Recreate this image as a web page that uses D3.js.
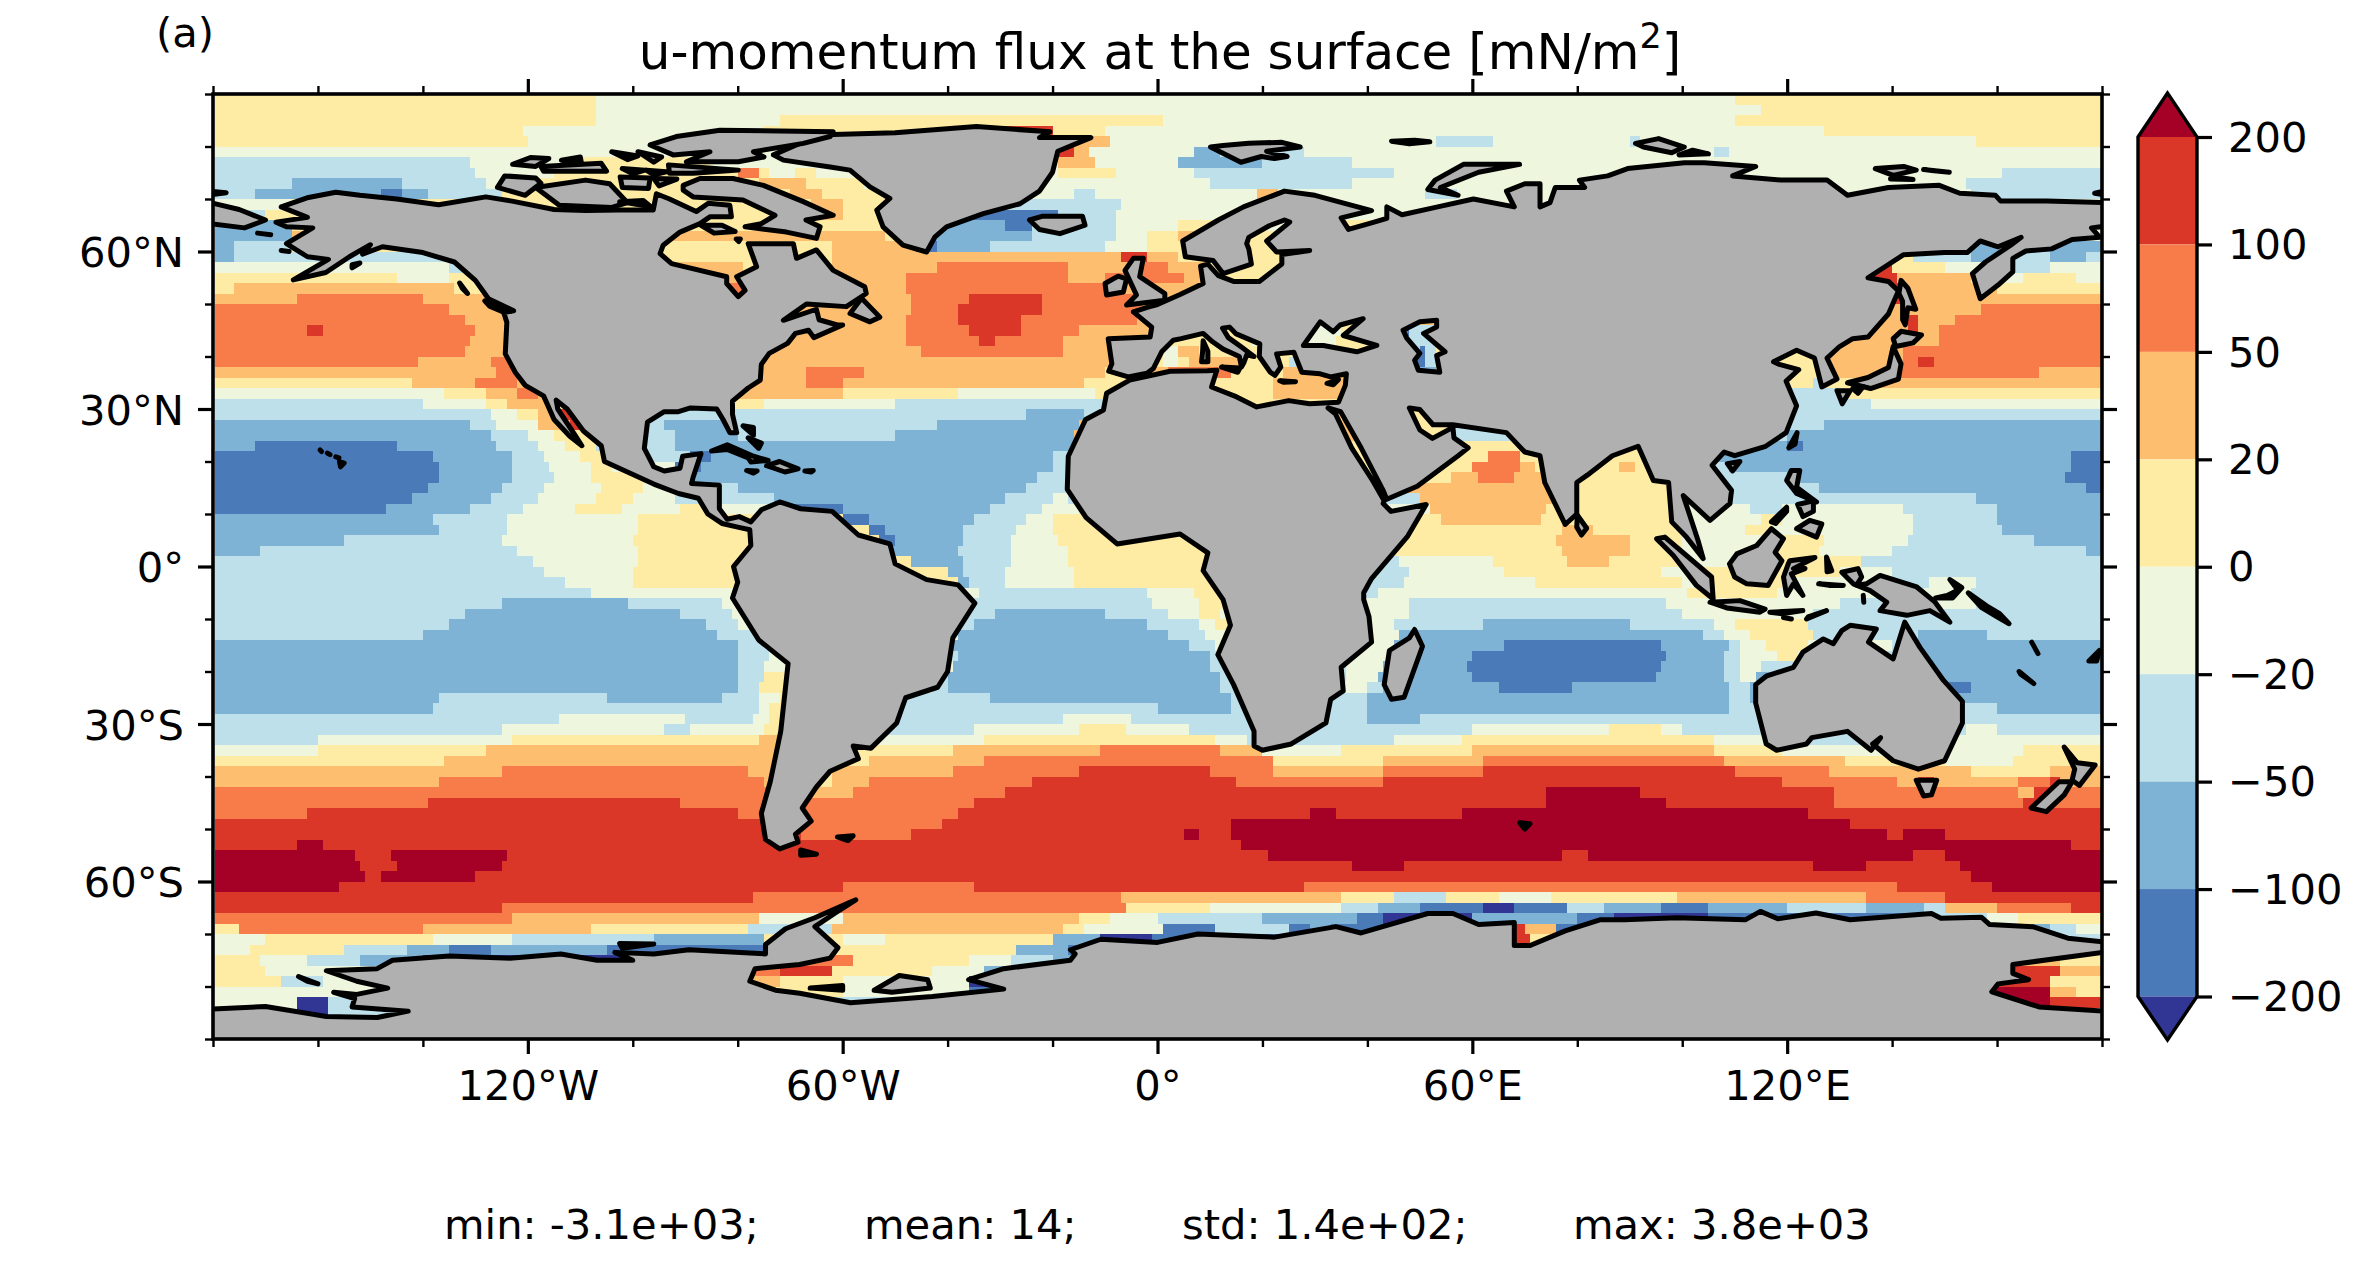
<!DOCTYPE html>
<html>
<head>
<meta charset="utf-8">
<script src="https://cdn.jsdelivr.net/npm/d3@7"></script>
<style>
  html, body { margin: 0; background: #fff; }
  text { font-family: "DejaVu Sans", sans-serif; fill: #000; }
</style>
</head>
<body>
<svg id="chart" width="2362" height="1263"></svg>
<script>
// colour classes, bottom to top of the colorbar
var levels = [-200, -100, -50, -20, 0, 20, 50, 100, 200];
var classColors = ["#313695", "#4a7ab7", "#7fb3d5", "#bde0eb", "#eef7de", "#feeca4", "#fdbe70", "#f77c49", "#db3728", "#a50026"];
var classValues = [-300, -150, -75, -35, -10, 10, 35, 75, 150, 300];

var lonTicksMajor = [-120, -60, 0, 60, 120];
var lonTicksMinor = [-180, -160, -140, -100, -80, -40, -20, 20, 40, 80, 100, 140, 160, 180];
var latTicksMajor = [60, 30, 0, -30, -60];
var latTicksMinor = [90, 80, 70, 50, 40, 20, 10, -10, -20, -40, -50, -70, -80, -90];
var lonLabels = { "-120": "120°W", "-60": "60°W", "0": "0°", "60": "60°E", "120": "120°E" };
var latLabels = { "60": "60°N", "30": "30°N", "0": "0°", "-30": "30°S", "-60": "60°S" };
var colorbarLabels = ["200", "100", "50", "20", "0", "−20", "−50", "−100", "−200"];
var colorbarLevels = [200, 100, 50, 20, 0, -20, -50, -100, -200];
var footerStats = ["min: -3.1e+03;", "mean: 14;", "std: 1.4e+02;", "max: 3.8e+03"];

// flux field: one string per 2 degree latitude band from 89N to 89S,
// each run is class:eastern longitude of the run
var fluxRows = [
"5:-107 4:110 5:180",
"5:-107 4:115 5:180",
"5:-107 4:-72 5:1 4:110 5:180",
"5:-121 4:-75 5:-34 8:-20 5:-10 4:127 5:180",
"5:-120 4:-20 6:-9 4:53 3:64 4:90 3:92 4:156 5:180",
"4:-19 8:-16 6:-13 4:7 2:12 3:28 4:106 3:109 4:180",
"3:-131 4:-112 5:-85 4:-19 6:-12 4:4 2:20 3:37 4:180",
"3:-130 4:-115 5:-80 7:-76 5:-74 4:-69 5:-65 4:-54 4:-19 5:-8 4:7 3:45 4:161 3:180",
"3:-165 2:-144 3:-128 4:-120 5:-76 6:-67 5:-56 4:10 3:37 4:154 3:180",
"3:-172 2:-148 1:-144 2:-139 3:-125 5:-70 6:-64 5:-52 4:-16 3:-12 4:19 6:23 4:51 3:57 4:155 3:180",
"4:-165 5:-66 6:-60 5:-50 3:-7 4:180",
"3:-170 5:-64 6:-60 5:-50 1:-19 3:-8 4:180",
"2:-165 5:-45 2:-29 1:-24 3:-8 4:4 5:12 4:36 5:44 4:180",
"2:-165 6:-52 5:-43 2:-24 3:-8 4:-2 5:4 6:9 5:30 4:180",
"2:-176 3:-165 5:-62 6:-46 1:-42 2:-32 3:-10 4:-2 5:30 2:180",
"2:-176 3:-130 5:-62 6:-7 8:-2 6:4 5:144 3:155 2:163 3:170 2:177 3:180",
"4:-135 3:-128 5:-92 6:-79 5:-62 6:-42 7:-17 6:-3 7:2 6:9 5:136 8:140 5:150 4:163 3:170 4:180",
"5:-145 4:-135 5:-92 6:-48 7:-17 6:-10 7:5 6:12 5:136 8:141 6:155 4:165 5:175 4:180",
"5:-176 6:-134 5:-82 7:-78 6:-48 7:-10 6:136 8:142 6:160 5:180",
"6:-164 7:-140 6:-47 7:-36 8:-22 7:0 6:140 8:142 6:180",
"7:-135 6:-47 7:-38 8:-22 7:-3 6:157 7:180",
"7:-132 6:-48 7:-38 8:-26 7:-4 6:143 8:145 6:152 7:180",
"7:-162 8:-159 7:-130 6:-48 7:-36 8:-26 7:-15 6:12 5:18 4:35 5:42 1:48 3:53 6:143 8:145 6:149 7:180",
"7:-131 6:-48 7:-34 8:-31 7:-18 6:-2 5:18 4:34 5:42 3:53 6:149 7:180",
"7:-132 6:-45 7:-18 6:-2 5:1 4:4 6:8 5:42 3:50 1:51 3:53 5:128 6:142 7:180",
"7:-141 6:-127 7:-122 6:-2 5:1 4:4 5:6 6:16 5:25 3:27 6:47 1:51 3:53 5:128 6:142 7:145 8:148 7:180",
"6:-126 7:-118 6:-67 7:-56 6:-10 5:-2 6:2 7:14 5:24 6:36 5:47 2:53 5:128 6:140 7:168 6:180",
"5:-142 6:-130 7:-122 6:-67 7:-60 6:-14 5:-6 6:8 5:22 6:36 5:125 3:127 5:133 6:180",
"4:-136 5:-128 6:-122 7:-118 6:-60 5:-38 4:-12 5:22 6:36 3:131 5:180",
"3:-140 4:-128 5:-124 6:-114 5:-75 4:-50 3:-10 5:35 3:136 4:180",
"3:-127 4:-122 5:-118 6:-114 8:-110 3:-25 2:-14 3:-11 6:35 5:56 3:180",
"2:-131 3:-126 4:-118 6:-112 8:-110 3:-94 2:-82 3:-42 2:-15 6:37 5:56 3:127 2:180",
"2:-127 3:-120 4:-115 5:-108 6:-106 3:-92 2:-80 3:-50 2:-16 6:38 5:56 3:120 2:180",
"2:-172 1:-145 2:-126 3:-118 4:-113 5:-107 3:-92 2:-16 5:100 2:120 1:123 2:180",
"1:-138 2:-123 3:-117 4:-110 5:-104 3:-89 1:-85 2:-20 3:-17 5:63 7:69 5:100 2:174 1:180",
"1:-137 2:-123 3:-116 4:-108 5:-104 4:-92 1:-87 2:-20 3:-17 4:38 5:60 7:69 6:72 5:88 6:91 5:100 3:109 2:174 1:180",
"1:-137 2:-123 3:-115 4:-108 5:-96 2:-23 3:-17 1:40 5:56 6:61 7:68 6:74 5:94 3:120 2:173 1:180",
"1:-139 2:-125 3:-117 4:-106 5:-98 4:-90 3:-80 2:-25 3:-17 2:42 3:45 6:75 5:100 3:126 2:177 1:180",
"1:-142 2:-127 3:-118 4:-107 5:-100 4:-92 3:-73 2:-29 3:-20 4:-17 3:50 6:76 5:100 3:156 2:180",
"1:-147 2:-131 3:-121 4:-111 5:-102 4:-91 5:-84 4:-73 1:-60 2:-32 3:-22 4:-15 5:43 4:52 6:74 5:100 4:113 3:119 4:142 3:160 2:180",
"2:-138 3:-124 4:-99 5:-60 1:-55 2:-35 3:-25 4:-20 5:-14 5:54 6:73 5:100 4:115 5:119 4:144 3:160 2:180",
"2:-137 3:-124 4:-99 5:-55 1:-52 2:-37 3:-27 4:-20 5:77 6:83 5:100 4:112 5:117 4:144 3:161 2:180",
"2:-155 3:-125 4:-100 5:-53 1:-50 2:-37 3:-28 4:-19 5:76 6:90 5:100 4:115 5:127 4:143 3:167 2:180",
"2:-171 3:-122 4:-99 5:-51 2:-38 3:-28 4:-17 5:77 6:90 5:100 4:115 5:126 4:140 3:177 2:180",
"3:-119 4:-99 5:-47 2:-37 3:-28 4:-17 5:42 3:46 4:64 5:78 6:86 5:100 4:118 5:134 3:180",
"3:-117 4:-100 5:-40 2:-37 3:-29 4:-16 5:42 3:48 4:66 5:96 4:102 5:130 4:140 3:180",
"3:-113 4:-100 5:-38 2:-36 3:-29 4:-16 5:40 3:47 4:72 5:100 4:106 5:119 4:140 3:147 4:156 3:180",
"3:-108 4:-34 3:-2 4:7 5:12 3:42 4:101 5:118 4:140 3:146 4:155 3:180",
"3:-125 2:-101 3:-83 4:-35 3:-1 4:8 5:13 4:48 3:97 4:130 3:148 4:156 3:180",
"3:-132 2:-91 3:-81 4:-40 3:-31 2:-10 3:2 4:8 5:12 4:48 3:100 4:125 3:180",
"3:-135 2:-86 3:-80 4:-38 3:-35 2:-2 3:8 4:11 5:14 4:45 3:62 2:90 3:106 4:110 5:124 3:180",
"3:-140 2:-84 3:-76 4:-38 2:2 3:9 4:46 2:104 3:108 4:113 5:125 3:145 2:158 3:180",
"2:-80 3:-40 2:6 3:11 4:45 2:66 1:96 2:109 3:111 4:116 5:124 4:140 3:145 2:180",
"2:-80 3:-74 4:-40 3:-38 2:10 3:12 4:44 2:60 1:97 2:108 3:111 4:118 5:122 4:124 3:146 2:180",
"2:-80 3:-75 4:-39 2:10 3:36 4:43 2:59 1:96 2:108 3:111 4:115 3:146 2:180",
"2:-80 3:-75 5:-42 3:-40 2:12 3:36 4:42 2:60 1:95 2:108 3:111 4:114 2:180",
"2:-80 3:-76 5:-43 3:-40 2:12 3:33 4:40 3:43 2:65 1:79 2:109 3:113 2:150 1:155 2:180",
"2:-137 3:-105 2:-83 3:-76 4:-72 5:-48 3:-32 2:14 3:40 2:109 3:113 2:180",
"2:-138 3:-76 4:-74 5:-70 3:0 2:14 3:40 2:109 3:160 2:180",
"3:-114 4:-90 3:-77 4:-74 5:-71 3:-18 4:-5 3:40 2:50 3:180",
"3:-125 4:-94 3:-89 4:-75 5:-72 3:-35 4:-15 5:-6 4:6 3:60 4:86 5:96 4:100 3:154 4:160 3:180",
"3:-160 4:-123 5:-76 6:-72 4:-33 5:11 4:17 3:45 4:58 5:106 4:117 3:150 4:180",
"4:-160 5:-128 6:-72 5:-39 6:-11 7:12 6:20 4:35 5:60 6:106 5:119 4:165 5:180",
"5:-136 6:-72 5:-55 6:-33 7:22 5:43 6:62 7:108 6:131 5:150 4:163 5:180",
"6:-125 7:-78 6:-72 5:-62 6:-39 7:-15 8:10 7:22 6:43 7:62 8:110 7:128 6:155 5:170 6:180",
"6:-137 7:-75 6:-65 5:-62 6:-55 7:-24 8:15 7:43 8:119 7:141 6:145 8:148 6:164 7:170 8:172 6:180",
"7:-72 6:-58 7:-29 8:74 9:92 8:129 7:164 6:167 8:171 7:180",
"7:-139 8:-91 7:-35 8:74 9:97 8:129 7:165 8:170 7:180",
"7:-162 8:-80 7:-38 8:29 9:34 8:58 9:124 8:180",
"8:-68 7:-41 8:14 9:132 8:180",
"8:-68 7:-47 8:5 9:8 8:14 9:139 8:142 9:150 8:180",
"8:-164 9:-159 8:16 9:174 8:180",
"9:-153 8:-146 9:-124 8:21 9:77 8:82 9:144 8:150 9:180",
"9:-152 8:-145 9:-125 8:37 9:47 8:125 9:135 8:153 9:180",
"9:-151 8:-148 9:-130 8:155 9:180",
"9:-156 8:-60 7:-35 8:28 7:141 8:159 9:180",
"8:-77 7:-7 6:35 5:45 3:55 5:65 4:75 5:99 6:135 7:150 8:180",
"8:-125 7:-6 5:10 4:35 3:42 2:50 1:62 0:68 1:78 3:85 2:96 1:105 2:120 3:135 2:146 3:150 6:160 7:174 8:180",
"7:-123 6:-76 4:-60 6:-15 5:-9 4:0 3:20 2:38 1:43 0:60 2:80 1:87 0:105 1:145 3:158 4:164 5:180",
"5:-175 7:-140 6:-108 5:-78 3:-62 6:-18 5:-14 4:1 1:11 3:25 1:29 2:33 1:64 8:70 6:76 1:160 2:170 3:175 4:180",
"4:-170 5:-138 4:-123 3:-96 2:-75 5:-60 4:-52 5:-20 2:-11 0:-1 1:66 8:71 5:76 1:165 0:168 3:180",
"4:-173 5:-155 3:-143 2:-135 1:-127 2:-105 1:-65 5:-27 2:-17 1:168 8:172 6:180",
"5:-171 4:-162 3:-152 2:-140 0:-100 1:-70 7:-58 5:-36 4:-28 3:-20 2:160 6:172 5:180",
"5:-170 4:-78 7:-72 8:-62 5:-43 4:-33 2:162 8:172 6:180",
"5:-167 3:-159 4:-140 6:-72 5:-60 4:-36 0:160 8:170 5:180",
"4:-78 5:-60 4:-36 1:158 9:170 6:175 5:180",
"4:-164 0:-158 3:160 9:170 8:180",
"4:-164 0:-158 3:180",
"3:180",
"3:180"
];

// coastlines as lon/lat rings
var americas = [[-168,65.6],[-162,66.5],[-167,68.5],[-161.8,70.3],[-156.6,71.3],[-152,70.7],[-145,70],[-137,68.9],[-128,70.4],[-123,69.6],[-115,68],[-109,67.8],[-102.5,67.9],[-96.1,67.9],[-95.5,71],[-93,70],[-87.9,67.6],[-85.6,69.2],[-81.5,68.8],[-81.2,66.6],[-85.3,66.6],[-87.2,65.3],[-91,63.7],[-94.2,61.2],[-94.8,59.6],[-92.6,57.7],[-82.1,55.2],[-82.1,53.9],[-79.9,51.4],[-78.6,52.6],[-80.2,55.2],[-76.4,57.1],[-78,61.5],[-69.4,61.5],[-68.8,58.7],[-65,60.3],[-61.8,56.4],[-55.8,53.3],[-55.5,52],[-59.3,49.5],[-66.9,50],[-71.3,46.9],[-65,49],[-64.5,47],[-61,46],[-60,46],[-65.5,43.6],[-66.5,45],[-69,44.4],[-70.5,42.5],[-74,40.6],[-75.5,38.5],[-75.7,35.5],[-78,34],[-81,31.5],[-81,29],[-80.2,25.5],[-81.5,25.5],[-82.8,28],[-84,30],[-89,30.2],[-91.3,29.5],[-94,29.5],[-97.2,27.5],[-97.8,22.5],[-96,19],[-94,18.2],[-91,18.7],[-90.5,21],[-87,21.5],[-88.5,17],[-88.8,15.8],[-83.5,15.5],[-83.5,11],[-82,9],[-79.7,9.5],[-77.5,8.5],[-75.5,10.8],[-72,12.3],[-68,11],[-62,10.5],[-57,6],[-51,4.3],[-50,0.5],[-44,-2.5],[-38,-3.5],[-34.8,-7],[-39,-13.6],[-40,-20],[-41.9,-23],[-48,-25],[-49.7,-29.8],[-54.6,-34.6],[-58,-34.2],[-57,-36.6],[-62.4,-39],[-65,-42],[-67.7,-46],[-66,-48.5],[-69,-51],[-68.5,-52.5],[-72,-53.8],[-74.7,-52],[-75.5,-47],[-73.8,-41],[-71.8,-31.4],[-70.4,-18.5],[-76,-14],[-81,-6],[-80,-3],[-80.8,0],[-77.5,4],[-77.7,7],[-80,7.5],[-83,8.2],[-85.7,10],[-87.5,13],[-91.3,13.9],[-96,15.7],[-105.4,20],[-106,23],[-109.4,25.8],[-112.5,30],[-114.6,31.7],[-114.3,30],[-111,25],[-109.7,23],[-112,24.8],[-115,28],[-117,32.5],[-120.5,34.5],[-122.4,37],[-124.3,40.5],[-124,46.5],[-124.6,48.4],[-122.7,48.7],[-127.5,51],[-130,54.5],[-134,58],[-140,59.8],[-147.7,60.9],[-151.5,59.5],[-150,61.3],[-154,59],[-158.5,56],[-164.7,54.6],[-158,58.5],[-162,59],[-166,61.5],[-161,64.5],[-166,64.7]];

var eurasiaAfrica = [[-5.6,36.1],[-2,36.8],[-0.8,37.7],[0.8,40.9],[3,43.1],[4.5,43.4],[8.7,44.4],[10.5,42.8],[12.5,41.4],[15.6,40],[16,38],[16.5,38.9],[17,40.3],[18.4,40],[16,41.8],[13.5,43.6],[12.4,45.4],[13.7,45.6],[15,44.3],[19.5,42.4],[19.4,40],[21.5,37],[22.4,36.4],[23.5,38],[22.7,40.5],[26,40.8],[26.5,39.5],[27.5,37],[31,36.7],[33,36.1],[36,36.7],[35.8,34.5],[34.5,31.3],[29,31],[25,31.6],[18.9,30.4],[15.1,32.3],[10.3,34.2],[11.3,37.4],[9.5,37.3],[2.4,37.2],[-5.3,35.5],[-9.7,33],[-10.3,29.8],[-13.7,28],[-17,21],[-17.2,14.7],[-13.6,9.3],[-7.7,4.3],[4.3,6.2],[9.6,2.6],[8.7,-0.8],[12.5,-6.3],[13.9,-11.2],[11.5,-16.8],[14.5,-22.5],[18.4,-31.4],[18.4,-34.2],[20,-35],[25.5,-33.8],[32.1,-29.8],[33,-25.3],[35.4,-23.7],[35,-19.2],[40.8,-14.4],[40.3,-9.5],[39.3,-6.3],[39.3,-5],[40.8,-2.3],[47.7,5.8],[51.2,11.8],[44.5,10.5],[43,12],[43.2,12.5],[40.8,16.7],[37,22.6],[33.9,29.1],[32.5,30.2],[34.9,29.5],[38.8,22.6],[43,14.5],[43.7,12.8],[49.5,15.3],[57.3,21.1],[59.2,22.6],[56.5,24.5],[56.3,26.5],[52.4,24.4],[50,26],[48,30.2],[50,29.9],[52.5,27],[56.3,27],[66.5,25.5],[70,21.8],[72.9,21.1],[73.8,16],[77.7,8],[79.9,10],[79.9,16],[81.9,17.4],[86.7,21.1],[91.6,22.9],[94.5,16.4],[97.4,16],[98,8.5],[100.8,5.6],[104,1.5],[103,5],[100.2,13.5],[105.3,8.8],[109.1,12],[109.4,14.5],[105.7,19.3],[108,21.8],[110,21.1],[115.9,22.9],[119.8,25.5],[121.8,30.6],[119.8,35.3],[122.2,37.5],[118.5,38.5],[117.4,39],[121.8,41.2],[125.2,39.7],[126.6,34.2],[129.5,35.7],[127.6,39.7],[130,41.9],[132.5,43.4],[135.4,43.7],[139.3,48.1],[141.2,52.5],[139.3,54.3],[135.4,55],[142.2,59.4],[150,59.8],[154.3,59.8],[156.8,62],[160.2,60.9],[164.6,62.7],[162.6,61.2],[157.8,58],[155.3,55.8],[156.8,51],[160.2,53.6],[163,56.1],[163,58.7],[165.5,60.1],[170.4,60.5],[174.3,62.3],[179.6,62.7],[178,64.5],[180.5,64.8],[180.5,69.3],[169.4,69.6],[160.7,69.6],[159.7,70.7],[152.9,71.1],[149,72.6],[139.3,72.2],[131.5,70.7],[127.6,73.6],[118.8,73.6],[109.6,74.4],[114,76.2],[104.2,76.9],[100.4,76.9],[89.6,75.8],[85.8,74.4],[80.4,73.6],[81.4,72.2],[75.8,72.2],[74.8,69.3],[72.9,68.5],[72.9,72.9],[70,72.9],[66.5,71.5],[68,68.5],[60.2,70],[53.4,68.5],[46.6,67],[43.7,68.5],[43.7,66.3],[40.3,65.3],[36.4,64.2],[35,66.4],[40.8,67.8],[30,70.7],[24.2,71.5],[16.4,68.5],[11.6,66],[4.8,62],[5.3,59],[10.6,58.3],[12.5,55.8],[17.9,57.6],[17.4,60.5],[17,61.5],[17.4,62.7],[21.3,64.9],[24.2,66],[25.2,65.6],[20.8,62],[22.7,59.9],[29,60.2],[23.7,59.4],[23.7,57.6],[19.4,54.3],[14.5,54.3],[11.6,55.4],[9.6,57.6],[8.2,57.2],[8.7,53.9],[4.3,51.8],[0,49.9],[-1.8,49.4],[-4.6,48.5],[-1.1,45.6],[-1.4,43.7],[-9.4,43.4],[-8.7,38.6],[-9.3,37.2]];

var blackSea = [[27.8,42.1],[31,46.6],[33.5,44.7],[34.8,46],[39.2,47.2],[37.3,45.6],[35.4,44],[41.8,42.1],[38,40.9],[31.6,42.1]];
var caspian = [[46.8,45],[50,46.6],[53.2,46.9],[53.2,45.6],[50.7,44.4],[54.8,40.9],[53.2,40.2],[53.8,37],[49.7,37.4],[49,39.3],[50,40.6],[47.5,43.5]];

var antarctica = [[-180.5,-84.3],[-170,-83.8],[-158.4,-85.7],[-148.7,-85.9],[-142.8,-84.7],[-153.5,-83.9],[-153,-82.3],[-157,-81.1],[-152.6,-81.5],[-146.7,-80.3],[-152.6,-79],[-158.4,-77],[-148.7,-76.6],[-145.8,-75],[-135,-74.2],[-123.4,-74.6],[-113.7,-73.8],[-106.8,-75],[-100,-75],[-103.4,-73.5],[-96,-73.8],[-89.3,-73],[-74.7,-73.8],[-74.7,-72],[-70.9,-69],[-65.3,-66.9],[-58.5,-63.9],[-57.5,-63.5],[-61.4,-66],[-65.3,-68.6],[-60.9,-72.6],[-62.4,-74.6],[-68.2,-75.8],[-76.7,-76.6],[-77.7,-79],[-72.8,-80.7],[-68.2,-81.3],[-58.5,-83.1],[-42.9,-81.9],[-29.3,-80.5],[-36,-78.7],[-29.3,-76.6],[-16.6,-75],[-15.7,-73.8],[-16.6,-73],[-10.8,-71],[0,-71.6],[7.7,-70],[22.3,-70.6],[34,-68.6],[38.8,-69.8],[51.5,-66.1],[56.3,-66.1],[61.2,-68.2],[68,-67.8],[68,-72.2],[71,-72.2],[77.7,-69.4],[84.3,-67.3],[89,-67.3],[99,-66.9],[112,-67.3],[114.9,-65.7],[118.2,-67.1],[125.5,-66],[132,-67.3],[147.5,-66.1],[149.3,-67],[157,-66.8],[158.6,-68.2],[166.8,-68.6],[173.5,-70.8],[183,-71.8],[181,-73.4],[163,-75.8],[163,-77.5],[166,-78.7],[160.2,-79.5],[159,-81],[168,-83.9],[180.5,-84.7],[180.5,-91],[-180.5,-91]];

var greenland = [[-22.5,71.5],[-20,75.1],[-19,79.1],[-12.7,81.7],[-22.5,81.7],[-20.5,82.8],[-34.5,83.8],[-50,82.6],[-61.8,82.3],[-68.2,80.6],[-73.2,78.4],[-71.3,77.4],[-62.4,76.1],[-58.6,75.5],[-54.8,72.3],[-51,70.1],[-53.5,67.9],[-52.3,64.7],[-48.5,61.2],[-44,59.9],[-42.4,62.8],[-40.2,64.7],[-33.2,67.2],[-26.2,69.1]];

var islands = [
  [[-159.6,22.2],[-159.3,21.9]], [[-158.2,21.6],[-157.7,21.3]], [[-156.6,20.9],[-156,20.7]], [[-155.9,20],[-155,19.7],[-155.7,19]],
  [[-125.8,72.2],[-124.4,74.4],[-118.5,74],[-117.5,73],[-120.5,70.7]],
  [[-118.5,72.2],[-109,73.6],[-104.4,72.9],[-101,69.3],[-104,68.4],[-114,68.8]],
  [[-122.9,76.6],[-119.5,77.9],[-116,77.7],[-118.5,76.2]],
  [[-117.5,76.2],[-106,76.8],[-105,75.3],[-117,75.3]],
  [[-113.6,77.4],[-110,78],[-109.8,76.9]],
  [[-104,79],[-99,78.2],[-101,77.5]],
  [[-99,79],[-94.5,78],[-96,77]],
  [[-102,75.8],[-97.7,75.5],[-100,74.8]],
  [[-97.4,75.5],[-93.6,75.2],[-96,74.6]],
  [[-102.4,74.2],[-96.7,74],[-97,72],[-102,72.2]],
  [[-96,73.9],[-91.6,73.8],[-95,72.5]],
  [[-102.5,69.5],[-98,69.7],[-96.5,68.5]],
  [[-91.7,81.9],[-83.4,83.1],[-61.8,82.8],[-62.4,81.9],[-67.5,80.6],[-77,79],[-75,78],[-79.9,77.1],[-89.8,77.1],[-85.3,79],[-92.3,78.4],[-96.7,80.3]],
  [[-93.2,76.5],[-79.9,75.5],[-88.5,74.9],[-93,74.9]],
  [[-90.4,72.6],[-87.2,73.9],[-80.9,73.9],[-75.1,72.6],[-67.5,69.5],[-61.8,66.9],[-67,66],[-64.3,64.7],[-65,62.5],[-70.7,63.7],[-78.6,64.7],[-75.5,65.3],[-72.9,66.9],[-79,69.8],[-88.5,70.4],[-90.4,71.7]],
  [[-87,65],[-83,65],[-80.5,63.8],[-84.5,63.5]], [[-80.3,62.4],[-79.5,62.4],[-79.8,61.9]],
  [[-58.6,48.2],[-56.4,51.1],[-52.9,47.5],[-54.8,46.6]],
  [[-128.2,50.6],[-123.3,48.6],[-124.7,48.5],[-127.3,49.6]],
  [[-133,54],[-131.5,52],[-132.5,53]],
  [[-153.5,57.5],[-152,57.8],[-153.5,56.9]],
  [[-171.5,63.5],[-169,63.2]], [[-167,60.2],[-165.5,60]],
  [[-180.5,69.3],[-175,68],[-170,66],[-174,64.5],[-180.5,65.3]],
  [[-180.5,71.5],[-177.5,71.2],[-180.5,70.8]], [[178.6,71.1],[180.5,71.5],[180.5,70.8]],
  [[-24.4,66],[-22,66.7],[-14.3,66.7],[-13.8,65],[-18.6,63.4],[-22.5,64.2]],
  [[-4.6,58.7],[-2.7,58.7],[-3.4,55.2],[1.4,52],[1.4,50.7],[-5.9,49.8],[-4,51.7],[-6.2,56.4]],
  [[-10,53.9],[-7.5,55.3],[-5.9,54.8],[-6.5,52.3],[-9.7,51.7]],
  [[8.7,43],[9.6,41],[9.6,39],[8.4,39],[8.6,41]], [[12.2,38],[15.7,37.8],[15.3,37]],
  [[23.3,35.4],[26.3,35.2],[24,35.1]], [[32.3,34.9],[34.5,35.6],[33.5,34.6]],
  [[51.5,71.8],[57.3,70.7],[53.9,72.2],[61.2,75.1],[69,76.6],[58.3,76.6],[52.9,73.6]],
  [[10.1,79.9],[15.9,77],[19.8,78.1],[22.3,77.7],[24.7,78.1],[20.8,79.1],[27.2,79.9],[23.7,80.8],[17.4,80.6],[12.5,80.2]],
  [[44.6,81],[48,80.5],[51.9,80.9],[49,81.2]],
  [[91.1,80.6],[95.5,81.5],[100.4,79.9],[98,78.8],[92.6,79.9]], [[99.4,78.4],[105,78.6],[102,79.3]],
  [[136.8,75.8],[142.2,76.2],[144.6,75.5],[140.2,74.5]], [[146,75.6],[150.9,75.1],[148,75.4]], [[139.7,73.8],[144,73.7],[142,74]],
  [[-85,22],[-82,23.2],[-77,21],[-74.2,20.2],[-77.5,19.9],[-78,20.7],[-82,22.3]],
  [[-74.5,19.2],[-72,20],[-68.5,18.6],[-71,18]], [[-67.2,18.2],[-65.6,18.3],[-66,18]], [[-78.3,18.3],[-76.3,18.2],[-77,17.8]],
  [[-79,26.8],[-77,26.5],[-77,25]], [[-78,24.5],[-75.5,23.5],[-76,22.5]],
  [[141.7,54.5],[143,53],[144.5,49],[143,49.3],[142.5,46],[142,47],[142,50.5],[141.3,52]],
  [[141.7,44.8],[145.6,44.1],[144,42.6],[140.7,41.9],[140.2,43.4]],
  [[140.2,41.9],[141.7,38.6],[141.2,35.7],[135.9,33.9],[131.5,35],[135.4,36],[139.3,37.9]],
  [[129.5,33.5],[132,33.5],[130.5,31]], [[132.5,33.9],[134.5,34.3],[133.5,33]],
  [[120.3,22.6],[121.9,25.5],[121.5,23.3]], [[108.6,19.6],[111,20],[109.6,18.2]],
  [[80,9.8],[81.8,7.3],[80.8,6],[79.9,7.5]],
  [[120.8,18.3],[122.4,18.3],[121.8,15.1],[125.6,12.3],[121.8,13.9],[119.9,16.4]],
  [[121.8,7.2],[124.3,8.8],[126.6,8.1],[125.6,5.6]], [[122,11.8],[125,12.5],[125,10.5],[123,9.5]], [[117,8.5],[119.9,11.3],[119.9,10.5],[117.8,8.2]],
  [[117,7.2],[119.3,5.3],[117.7,2.7],[119,1.1],[116.4,-3.6],[112.3,-3.3],[110,-2],[109,0.5],[110.4,2.4],[114.2,4]],
  [[95.1,5.3],[96.7,5.6],[105.6,-2],[105.9,-6.2],[102.7,-3.6],[98.3,2.1]],
  [[105.3,-6.8],[111,-6.5],[115.8,-8.1],[114.8,-8.7],[108.5,-7.9]],
  [[116.7,-8.7],[123,-8.4],[119,-9]], [[119.3,-9.7],[120.8,-10]], [[123.7,-10],[127.5,-8.4],[124,-9.6]],
  [[120.5,1.1],[125.3,1.7],[121.2,-0.4],[123.4,-0.4],[120.8,-1.4],[123,-5.5],[121.2,-3.3],[119.9,-5.5],[119.3,-2],[120.2,0.5]],
  [[127.5,1.8],[128.5,-0.8],[127.6,-1]], [[126,-3.3],[130.7,-3.6],[128,-3.6]], [[134.5,-5.5],[134.6,-6.8]],
  [[130.4,-1.1],[133.5,-0.4],[134.2,-2],[133.2,-3.6],[135.1,-3.3],[137.7,-1.7],[144.7,-3.9],[148.2,-6.8],[151,-10.6],[147.2,-8.4],[142.8,-9.3],[137.7,-8.4],[139,-6.8],[135.8,-4.6],[132.6,-3.3]],
  [[148.3,-6],[151.5,-6],[153.3,-4],[151,-2.5],[152.5,-4.5],[150.5,-5.5]], [[154.5,-5],[158,-7.5],[160.5,-9],[162.3,-10.9],[160,-9.6],[157,-7.8]],
  [[166.6,-14.4],[167.8,-16.6]], [[164.2,-20],[167,-22.3],[164.5,-20.5]], [[177.5,-18],[178.5,-17],[179.5,-16],[179,-18]],
  [[114,-22.5],[116,-20.9],[121.2,-19.2],[123,-16.3],[126.9,-13.8],[128.8,-14.7],[130.4,-12.2],[132,-11.2],[137,-11.9],[135.5,-14.4],[140.2,-17.6],[142.4,-10.6],[145.3,-15.4],[149.8,-21.7],[153.4,-25.7],[153.4,-29.8],[150,-37],[145,-38.6],[140.2,-37],[136.3,-33.8],[137.8,-32.6],[136,-35],[131.5,-31.4],[124.7,-32.6],[123.7,-33.8],[118,-35],[116,-33.8],[114,-26]],
  [[144.6,-40.7],[148.5,-40.7],[147.5,-43.5],[146,-43.7]],
  [[172.8,-34.4],[175.3,-37.4],[178.7,-37.8],[175.7,-41.7],[174.3,-40.7],[174.8,-38.6]],
  [[166.5,-46],[171.8,-41],[174.3,-41],[172.8,-43.5],[169.4,-46.7]],
  [[49,-12],[50.5,-15.2],[47,-24.9],[44.6,-25.3],[43.2,-22.5],[44.2,-16],[48,-13.6]],
  [[-61,-51.5],[-58,-51.3],[-59,-52.2]], [[-68,-54],[-65,-54.8],[-68,-55]], [[69,-48.8],[71,-49],[70,-50]],
  [[-163.7,-78.1],[-160,-79.5],[-162,-79]],
  [[-54,-80.7],[-49.2,-77.9],[-43.8,-78.7],[-43.3,-80.3],[-50.6,-81.1]],
  [[-66.2,-80.3],[-60,-79.8],[-60,-80.7]],
  [[-102.5,-71.8],[-96,-71.9],[-102,-72.7]]
];

var svg = d3.select("#chart");
var west = 213, east = 2102, north = 94, south = 1039;
var tickFont = 41.67;
var coastWidth = 5;

var x = d3.scaleLinear().domain([-180, 180]).range([west, east]);
var y = d3.scaleLinear().domain([90, -90]).range([north, south]);
var color = d3.scaleThreshold().domain(levels).range(classColors);

svg.append("clipPath").attr("id", "plot-clip").append("rect")
    .attr("x", west).attr("y", north).attr("width", east - west).attr("height", south - north);

var plot = svg.append("g").attr("clip-path", "url(#plot-clip)");

// flux cells
var rowLats = d3.range(89, -90, -2);
var cells = [];
fluxRows.forEach(function(row, i) {
    var start = -179.6;
    row.split(" ").forEach(function(run) {
        var parts = run.split(":");
        var end = +parts[1];
        cells.push({ lat: rowLats[i], lon0: start, lon1: end, value: classValues[+parts[0]] });
        start = end;
    });
});

plot.append("g").selectAll("rect")
    .data(cells)
    .join("rect")
    .attr("x", function(d) { return x(d.lon0); })
    .attr("y", function(d) { return y(d.lat + 1); })
    .attr("width", function(d) { return Math.max(0, x(d.lon1) - x(d.lon0)); })
    .attr("height", function(d) { return y(d.lat - 1) - y(d.lat + 1); })
    .attr("fill", function(d) { return color(d.value); })
    .attr("shape-rendering", "crispEdges");

// land
var ring = d3.line()
    .x(function(d) { return x(d[0]); })
    .y(function(d) { return y(d[1]); })
    .curve(d3.curveLinearClosed);

var landRings = [americas, greenland, antarctica].concat(islands);

plot.append("g").selectAll("path")
    .data(landRings)
    .join("path")
    .attr("d", ring)
    .attr("fill", "#b0b0b0")
    .attr("stroke", "#000")
    .attr("stroke-width", coastWidth)
    .attr("stroke-linejoin", "round");

plot.append("path")
    .attr("d", ring(eurasiaAfrica) + ring(blackSea) + ring(caspian))
    .attr("fill", "#b0b0b0")
    .attr("fill-rule", "evenodd")
    .attr("stroke", "#000")
    .attr("stroke-width", coastWidth)
    .attr("stroke-linejoin", "round");

// axes, all four sides
function styleAxis(g, width) {
    g.select(".domain").remove();
    g.selectAll("line").attr("stroke", "#000").attr("stroke-width", width);
    g.selectAll("text").attr("font-size", tickFont).attr("fill", "#000")
        .attr("font-family", "DejaVu Sans");
}

function lonLabel(d) { return lonLabels[d]; }
function latLabel(d) { return latLabels[d]; }

svg.append("g").attr("transform", "translate(0," + south + ")")
    .call(d3.axisBottom(x).tickValues(lonTicksMinor).tickSize(8).tickFormat(""))
    .call(styleAxis, 2.4);
svg.append("g").attr("transform", "translate(0," + south + ")")
    .call(d3.axisBottom(x).tickValues(lonTicksMajor).tickSize(15).tickPadding(16).tickFormat(lonLabel))
    .call(styleAxis, 3.2);
svg.append("g").attr("transform", "translate(0," + north + ")")
    .call(d3.axisTop(x).tickValues(lonTicksMinor).tickSize(8).tickFormat(""))
    .call(styleAxis, 2.4);
svg.append("g").attr("transform", "translate(0," + north + ")")
    .call(d3.axisTop(x).tickValues(lonTicksMajor).tickSize(15).tickFormat(""))
    .call(styleAxis, 3.2);
svg.append("g").attr("transform", "translate(" + west + ",0)")
    .call(d3.axisLeft(y).tickValues(latTicksMinor).tickSize(8).tickFormat(""))
    .call(styleAxis, 2.4);
svg.append("g").attr("transform", "translate(" + west + ",0)")
    .call(d3.axisLeft(y).tickValues(latTicksMajor).tickSize(15).tickPadding(14).tickFormat(latLabel))
    .call(styleAxis, 3.2)
    .call(function(g) { g.selectAll("text").attr("dy", "0.37em"); });
svg.append("g").attr("transform", "translate(" + east + ",0)")
    .call(d3.axisRight(y).tickValues(latTicksMinor).tickSize(8).tickFormat(""))
    .call(styleAxis, 2.4);
svg.append("g").attr("transform", "translate(" + east + ",0)")
    .call(d3.axisRight(y).tickValues(latTicksMajor).tickSize(15).tickFormat(""))
    .call(styleAxis, 3.2);

svg.append("rect")
    .attr("x", west).attr("y", north).attr("width", east - west).attr("height", south - north)
    .attr("fill", "none").attr("stroke", "#000").attr("stroke-width", 3.6);

// colorbar
var barLeft = 2138, barRight = 2197, barMid = (barLeft + barRight) / 2;
var barY = d3.scalePoint().domain(colorbarLevels).range([137, 996.5]);
var bar = svg.append("g");

var barBands = d3.pairs(colorbarLevels).map(function(p) { return { top: p[0], bottom: p[1] }; });
bar.selectAll("rect")
    .data(barBands)
    .join("rect")
    .attr("x", barLeft)
    .attr("y", function(d) { return barY(d.top); })
    .attr("width", barRight - barLeft)
    .attr("height", function(d) { return barY(d.bottom) - barY(d.top); })
    .attr("fill", function(d) { return color((d.top + d.bottom) / 2); });

var barTop = barY(200), barBottom = barY(-200);
bar.append("polygon")
    .attr("points", [[barLeft, barTop], [barMid, north - 1], [barRight, barTop]].join(" "))
    .attr("fill", color(300));
bar.append("polygon")
    .attr("points", [[barLeft, barBottom], [barMid, south + 1], [barRight, barBottom]].join(" "))
    .attr("fill", color(-300));
bar.append("polygon")
    .attr("points", [[barLeft, barTop], [barMid, north - 1], [barRight, barTop], [barRight, barBottom], [barMid, south + 1], [barLeft, barBottom]].join(" "))
    .attr("fill", "none").attr("stroke", "#000").attr("stroke-width", 3.4);

var barAxis = d3.axisRight(barY).tickSize(15).tickPadding(16)
    .tickFormat(function(d, i) { return colorbarLabels[i]; });
svg.append("g").attr("transform", "translate(" + barRight + ",0)")
    .call(barAxis)
    .call(styleAxis, 3.2)
    .call(function(g) { g.selectAll("text").attr("dy", "0.34em"); });

// titles and stats
var title = svg.append("text").attr("x", 1160).attr("y", 69)
    .attr("text-anchor", "middle").attr("font-size", 50);
title.append("tspan").text("u-momentum flux at the surface [mN/m");
title.append("tspan").text("2").attr("font-size", 35).attr("dy", -21);
title.append("tspan").text("]").attr("dy", 21);

svg.append("text").attr("x", 156).attr("y", 47).attr("font-size", tickFont).text("(a)");

var footerX = [444, 864, 1182, 1573];
svg.append("g").selectAll("text")
    .data(footerStats)
    .join("text")
    .attr("x", function(d, i) { return footerX[i]; })
    .attr("y", 1239)
    .attr("font-size", tickFont)
    .text(function(d) { return d; });
</script>
</body>
</html>
